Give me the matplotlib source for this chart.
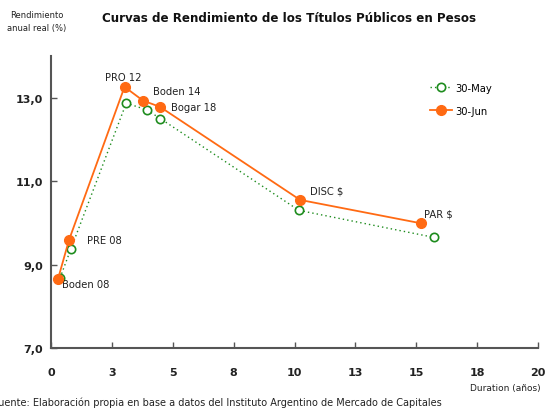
import matplotlib.pyplot as plt
from matplotlib.ticker import FuncFormatter

# titulos
bonos = ["Boden 08", "PRE 08", "PRO 12", "Boden 14", "Bogar 18", "DISC $", "PAR $"]

# 30-May
dur_may = [0.37, 0.82, 3.09, 3.93, 4.49, 10.18, 15.74]
tir_may = [8.68, 9.38, 12.87, 12.71, 12.50, 10.30, 9.65]

# 30-Jun
dur_jun = [0.29, 0.74, 3.02, 3.78, 4.48, 10.23, 15.19]
tir_jun = [8.66, 9.59, 13.26, 12.93, 12.78, 10.55, 9.99]

x_ticks = [0, 2.5, 5, 7.5, 10, 12.5, 15, 17.5, 20]
y_ticks = [7, 9, 11, 13]

# desplazamiento de las etiquetas (puntos)
offsets = {
    "Boden 08": (3, -4, "left"),
    "PRE 08": (13, 0, "left"),
    "PRO 12": (-1, 7, "center"),
    "Boden 14": (7, 7, "left"),
    "Bogar 18": (8, 0, "left"),
    "DISC $": (7, 7, "left"),
    "PAR $": (2, 7, "left"),
}

plt.rcParams['font.family'] = ['DejaVu Sans']

fig = plt.figure(figsize=(5.45, 4.10), dpi=100)
ax = fig.add_axes([51 / 545, 61 / 410, 487 / 545, 292 / 410])

naranja = "#FF6A13"
verde = "#1E8C1E"

ax.plot(dur_may, tir_may, ls=(0, (1, 2.2)), color=verde, lw=1, marker="o",
        ms=6, mfc="white", mec=verde, mew=1.2, label="30-May", zorder=3)
ax.plot(dur_jun, tir_jun, ls="-", color=naranja, lw=1.3, marker="o",
        ms=7, mfc=naranja, mec=naranja, label="30-Jun", zorder=4)

for nombre, x, y in zip(bonos, dur_jun, tir_jun):
    dx, dy, ha = offsets[nombre]
    ax.annotate(nombre, (x, y), xytext=(dx, dy), textcoords="offset points",
                ha=ha, va="center", fontsize=7.2, color="#222222")

ax.set_xlim(0, 20)
ax.set_ylim(7, 14)
ax.set_xticks(x_ticks)
ax.set_yticks(y_ticks)
ax.set_xticklabels([str(int(round(v + 0.01))) for v in x_ticks])
ax.yaxis.set_major_formatter(FuncFormatter(lambda v, p: f"{v:.1f}".replace(".", ",")))
ax.tick_params(direction="in", length=4, width=1, color="#555555",
               labelsize=8, pad=14)
ax.tick_params(axis="y", pad=6)
for lab in ax.get_xticklabels() + ax.get_yticklabels():
    lab.set_fontweight("bold")
    lab.set_color("#222222")

for s in ["top", "right"]:
    ax.spines[s].set_visible(False)
for s in ["left", "bottom"]:
    ax.spines[s].set_color("#555555")
    ax.spines[s].set_linewidth(1.5)

leg = ax.legend(loc="upper left", bbox_to_anchor=(370 / 487, 0.94), frameon=False,
                fontsize=7.2, handlelength=2.2, labelspacing=1.3, handletextpad=0.3)

fig.text(289 / 545, 1 - 18 / 410, "Curvas de Rendimiento de los Títulos Públicos en Pesos",
         ha="center", va="center", fontsize=8.6, fontweight="bold", color="#111111")
fig.text(37 / 545, 1 - 22 / 410, "Rendimiento\nanual real (%)", ha="center", va="center",
         fontsize=6, color="#222222", linespacing=1.7)
fig.text(541 / 545, 1 - 389 / 410, "Duration (años)", ha="right", va="center",
         fontsize=6.5, color="#222222")
fig.text(-0.013, 1 - 403 / 410, "Fuente: Elaboración propia en base a datos del Instituto Argentino de Mercado de Capitales",
         ha="left", va="center", fontsize=7, color="#222222")

fig.savefig("out.png", dpi=100)
